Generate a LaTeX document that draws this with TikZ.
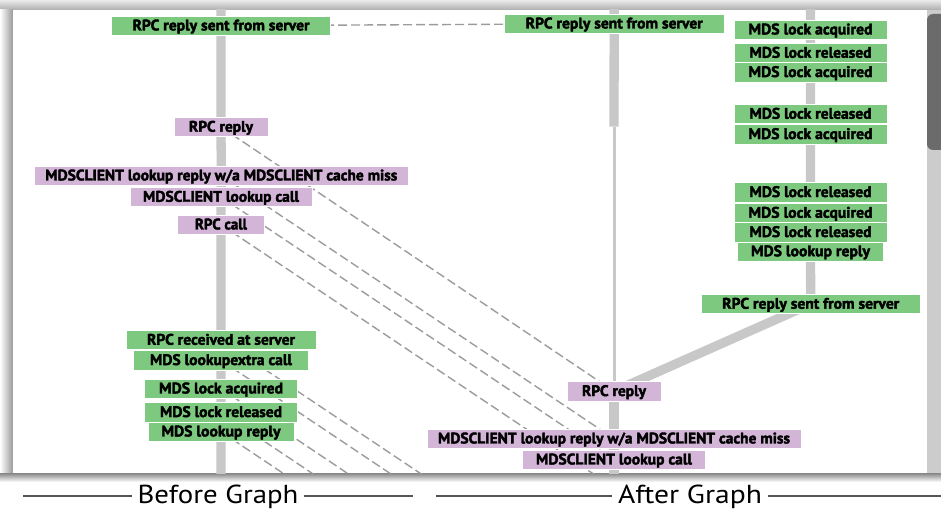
\documentclass[tikz,border=0pt]{standalone}
\usepackage{fontspec}
\setmainfont{PT Sans}
\newfontfamily\boxfont{PT Sans}[BoldFeatures={FakeBold=2.4}]
\usepackage{graphicx}
\definecolor{mygreen}{HTML}{7DC97F}
\definecolor{mypurple}{HTML}{D3B5D8}
\definecolor{bargray}{HTML}{C8C8C8}
\definecolor{dashgray}{HTML}{9C9C9C}
\definecolor{thumbgray}{HTML}{6B6B6B}
\definecolor{trackgray}{HTML}{CCCCCC}
\definecolor{labline}{HTML}{555555}
\newsavebox\fitsb
\newlength\fitlen
\newcommand\fitbox[2]{\sbox\fitsb{#2}\setlength\fitlen{\wd\fitsb}\pgfmathsetmacro\fitr{#1/\fitlen}\scalebox{\fitr}[1]{\usebox\fitsb}}
\pgfdeclarelayer{bg}
\pgfdeclarelayer{mid}
\pgfsetlayers{bg,mid,main}
\tikzset{
  lbox/.style={minimum height=19.3pt, inner sep=0pt, text height=12pt, text depth=2.5pt,
    font=\fontsize{15.3}{15.3}\selectfont\boxfont\bfseries, draw=white, line width=0.6pt, text=black},
  gbox/.style={lbox, fill=mygreen},
  pbox/.style={lbox, fill=mypurple},
  bar/.style={draw=bargray, line width=9.3pt},
  thinbar/.style={draw=bargray, line width=3pt},
  dline/.style={draw=dashgray, line width=1.4pt, dash pattern=on 9pt off 4pt},
  glabel/.style={font=\fontsize{26}{26}\selectfont, inner sep=0pt, anchor=base},
  gline/.style={draw=labline, line width=1.5pt}
}
\begin{document}
\begin{tikzpicture}[x=1pt, y=-1pt]
\useasboundingbox (0,0) rectangle (941,510);
% ---------- nodes: before graph ----------
\node[gbox, minimum width=219pt]   (lRS)  at (221,25.7)  {\fitbox{177}{RPC reply sent from server}};
\node[pbox, minimum width=94.3pt]  (lRR)  at (221,127)   {\fitbox{64}{RPC reply}};
\node[pbox, minimum width=374pt]   (lMLR) at (221.3,175.7) {\fitbox{352}{MDSCLIENT lookup reply w/a MDSCLIENT cache miss}};
\node[pbox, minimum width=182.3pt] (lMLC) at (221,197)   {\fitbox{156}{MDSCLIENT lookup call}};
\node[pbox, minimum width=86.6pt]  (lRC)  at (221,224.7) {\fitbox{52}{RPC call}};
\node[gbox, minimum width=189.7pt] (lRAS) at (221,340)   {\fitbox{148}{RPC received at server}};
\node[gbox, minimum width=175pt]   (lLE)  at (221,360.3) {\fitbox{142}{MDS lookupextra call}};
\node[gbox, minimum width=153pt]   (lLA)  at (221,388.7) {\fitbox{124}{MDS lock acquired}};
\node[gbox, minimum width=153pt]   (lLRl) at (221,412.3) {\fitbox{122}{MDS lock released}};
\node[gbox, minimum width=145.7pt] (lLR)  at (221,431.7) {\fitbox{119}{MDS lookup reply}};
% ---------- nodes: after graph ----------
\node[gbox, minimum width=219.7pt] (rRS)  at (614.2,23.7) {\fitbox{177}{RPC reply sent from server}};
\node[pbox, minimum width=94pt]    (rRR)  at (614,391.3)  {\fitbox{64}{RPC reply}};
\node[pbox, minimum width=374pt]   (rMLR) at (614,438.7)  {\fitbox{352}{MDSCLIENT lookup reply w/a MDSCLIENT cache miss}};
\node[pbox, minimum width=182.6pt] (rMLC) at (614,459.7)  {\fitbox{156}{MDSCLIENT lookup call}};
\node[gbox, minimum width=153pt] (a1) at (810.5,29.7)  {\fitbox{124}{MDS lock acquired}};
\node[gbox, minimum width=153pt] (r1) at (810.5,53)    {\fitbox{122}{MDS lock released}};
\node[gbox, minimum width=153pt] (a2) at (810.5,72.3)  {\fitbox{124}{MDS lock acquired}};
\node[gbox, minimum width=153pt] (r2) at (810.5,114)   {\fitbox{122}{MDS lock released}};
\node[gbox, minimum width=153pt] (a3) at (810.5,134.3) {\fitbox{124}{MDS lock acquired}};
\node[gbox, minimum width=153pt] (r3) at (810.5,192.3) {\fitbox{122}{MDS lock released}};
\node[gbox, minimum width=153pt] (a4) at (810.5,213)   {\fitbox{124}{MDS lock acquired}};
\node[gbox, minimum width=153pt] (r4) at (810.5,232.3) {\fitbox{122}{MDS lock released}};
\node[gbox, minimum width=145.6pt] (lkr) at (810.5,251.5) {\fitbox{119}{MDS lookup reply}};
\node[gbox, minimum width=219.3pt] (rRS2) at (810.7,304) {\fitbox{177}{RPC reply sent from server}};
% ---------- off-panel coordinates ----------
\coordinate (topL) at (221,0);
\coordinate (botL) at (221,500);
\coordinate (topM) at (614,0);
\coordinate (mBreak) at (614,126.7);
\coordinate (botM) at (614,500);
\coordinate (topR) at (810.5,0);
\coordinate (rRC)  at (614,487.7);
\coordinate (rRAS) at (614,603);
\coordinate (rLE)  at (614,623.3);
\coordinate (rLA)  at (614,651.7);
\coordinate (rLRl) at (614,675.3);
\coordinate (rLR)  at (614,694.7);
% ---------- background: shadow and panel ----------
\begin{pgfonlayer}{bg}
  \fill[white] (0,0) rectangle (941,510);
  \shade[top color=black!8, bottom color=black!32] (0,0) rectangle (941,10);
  \shade[left color=white, right color=black!40] (0,10) rectangle (13,474);
  \shade[top color=black!48, bottom color=white] (0,473) rectangle (941,482);
  \fill[white] (13,10) rectangle (941,473);
\end{pgfonlayer}
% ---------- connectors ----------
\begin{pgfonlayer}{mid}
\begin{scope}
  \clip (13,10) rectangle (927,473);
  \draw[dline] (lRS.center) -- (rRS.center);
  \draw[dline] (lRR.center) -- (rRR.center);
  \draw[dline] (lMLR.center) -- (rMLR.center);
  \draw[dline] (lMLC.center) -- (rMLC.center);
  \draw[dline] (lRC.center) -- (rRC);
  \draw[dline] (lRAS.center) -- (rRAS);
  \draw[dline] (lLE.center) -- (rLE);
  \draw[dline] (lLA.center) -- (rLA);
  \draw[dline] (lLRl.center) -- (rLRl);
  \draw[dline] (lLR.center) -- (rLR);
  % before graph spine
  \draw[bar] (topL) -- (lRS.center) -- (lRR.center) -- (lMLR.center) -- (lMLC.center) -- (lRC.center)
     -- (lRAS.center) -- (lLE.center) -- (lLA.center) -- (lLRl.center) -- (lLR.center) -- (botL);
  % after graph, middle column
  \draw[bar] (topM) -- (rRS.center) -- (mBreak);
  \draw[thinbar] (mBreak) -- (rRR.center);
  \draw[bar] (rRR.center) -- (rMLR.center) -- (rMLC.center) -- (botM);
  % after graph, lock column
  \draw[bar] (topR) -- (a1.center) -- (r1.center) -- (a2.center) -- (r2.center) -- (a3.center)
     -- (r3.center) -- (a4.center) -- (r4.center) -- (lkr.center) -- (rRS2.center);
  \draw[bar] (rRS2.center) -- (rRR.center);
\end{scope}
\end{pgfonlayer}
% ---------- scrollbar ----------
\fill[trackgray] (927,10) rectangle (941,473);
\fill[thumbgray, rounded corners=6pt] (927,14) rectangle (948,150);
% ---------- graph labels ----------
\node[glabel, inner xsep=5pt] (bg) at (218,503.3) {\fitbox{161}{Before Graph}};
\node[glabel, inner xsep=6pt] (ag) at (690,503.3) {\fitbox{144}{After Graph}};
\coordinate (bgL) at (23,496);
\coordinate (bgR) at (413,496);
\coordinate (agL) at (436,496);
\coordinate (agR) at (941,496);
\draw[gline] (bgL) -- (bg.west |- bgL);
\draw[gline] (bg.east |- bgR) -- (bgR);
\draw[gline] (agL) -- (ag.west |- agL);
\draw[gline] (ag.east |- agR) -- (agR);
\end{tikzpicture}
\end{document}
